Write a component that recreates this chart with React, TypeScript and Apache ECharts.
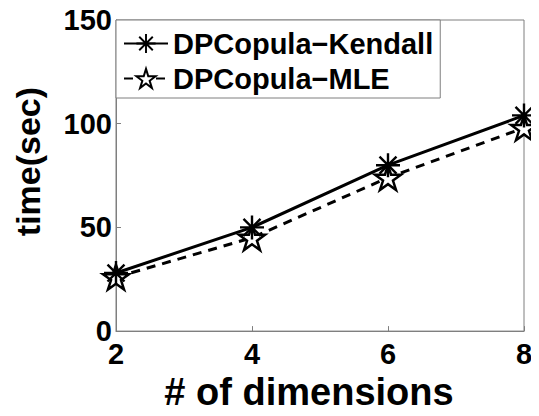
import React, { useEffect, useRef } from "react";
import * as echarts from "echarts";

// Runtime (seconds) against number of dimensions
const dimensions = [2, 4, 6, 8];
const kendallTime = [28, 50, 80, 104];
const mleTime = [26, 45, 74, 98];
const yTicks = [0, 50, 100, 150];

const seriesNames = ["DPCopula\u2212Kendall", "DPCopula\u2212MLE"];

// Asterisk built from four filled bars (same winding so overlaps stay filled)
const ASTERISK =
  "path://M0 45 H100 V55 H0 Z M45 0 H55 V100 H45 Z " +
  "M11.1 18.18 L18.18 11.1 L88.9 81.82 L81.82 88.9 Z " +
  "M81.82 11.1 L88.9 18.18 L18.18 88.9 L11.1 81.82 Z";

// Five-pointed star outline
const PENTAGRAM =
  "path://M50 0 L61.23 34.55 L97.55 34.55 L68.16 55.9 L79.39 90.45 L50 69.1 " +
  "L20.61 90.45 L31.84 55.9 L2.45 34.55 L38.77 34.55 Z";

const FONT = "'Liberation Sans', Arial, Helvetica, sans-serif";

export default function App() {
  const ref = useRef<HTMLDivElement>(null);

  useEffect(() => {
    if (!ref.current) return;
    const chart = echarts.init(ref.current, null, { renderer: "svg" });

    const pairs = (ys: number[]) => dimensions.map((x, i) => [x, ys[i]]);

    chart.setOption({
      animation: false,
      backgroundColor: "#ffffff",
      textStyle: { fontFamily: FONT },
      grid: {
        left: 116,
        right: 15,
        top: 20,
        bottom: 78,
        show: true,
        borderColor: "#7f7f7f",
        borderWidth: 1,
        backgroundColor: "transparent",
      },
      legend: {
        left: 116,
        top: 20,
        orient: "vertical",
        data: seriesNames,
        backgroundColor: "#ffffff",
        borderColor: "#7f7f7f",
        borderWidth: 1,
        borderRadius: 0,
        padding: [9, 7, 5, 7],
        itemGap: 6,
        itemWidth: 44,
        itemHeight: 24,
        textStyle: {
          fontFamily: FONT,
          fontSize: 29,
          fontWeight: "bold",
          color: "#000",
        },
      },
      xAxis: {
        type: "value",
        min: 2,
        max: 8,
        interval: 2,
        name: "# of dimensions",
        nameLocation: "middle",
        nameGap: 37,
        nameTextStyle: {
          fontFamily: FONT,
          fontSize: 38,
          fontWeight: "bold",
          color: "#000",
          padding: [0, 22, 0, 0],
        },
        axisLine: { show: true, lineStyle: { color: "#7f7f7f", width: 1 } },
        axisTick: { show: true, inside: true, length: 5, lineStyle: { color: "#7f7f7f" } },
        splitLine: { show: false },
        axisLabel: {
          fontFamily: FONT,
          fontSize: 29,
          fontWeight: "bold",
          color: "#000",
          margin: 8,
        },
      },
      yAxis: {
        type: "value",
        min: 0,
        max: 150,
        interval: 50,
        name: "time(sec)",
        nameLocation: "middle",
        nameGap: 71,
        nameTextStyle: {
          fontFamily: FONT,
          fontSize: 34,
          fontWeight: "bold",
          color: "#000",
          padding: [0, 0, 0, 28],
        },
        axisLine: { show: true, lineStyle: { color: "#7f7f7f", width: 1 } },
        axisTick: { show: true, inside: true, length: 5, lineStyle: { color: "#7f7f7f" } },
        splitLine: { show: false },
        axisLabel: {
          fontFamily: FONT,
          fontSize: 29,
          fontWeight: "bold",
          color: "#000",
          margin: 4,
          formatter: (v: number) => (yTicks.includes(v) ? String(v) : ""),
        },
      },
      series: [
        {
          name: seriesNames[1],
          type: "line",
          data: pairs(mleTime),
          symbol: PENTAGRAM,
          symbolSize: 26,
          symbolKeepAspect: true,
          lineStyle: { color: "#000", width: 3, type: [9, 7] },
          itemStyle: { color: "#ffffff", borderColor: "#000", borderWidth: 2.5 },
          z: 2,
        },
        {
          name: seriesNames[0],
          type: "line",
          data: pairs(kendallTime),
          symbol: ASTERISK,
          symbolSize: 24,
          lineStyle: { color: "#000", width: 3, type: "solid" },
          itemStyle: { color: "#000", borderWidth: 0 },
          z: 3,
        },
      ],
    });

    return () => chart.dispose();
  }, []);

  return <div ref={ref} style={{ width: 539, height: 416, marginLeft: -8, marginTop: -8 }} />;
}
